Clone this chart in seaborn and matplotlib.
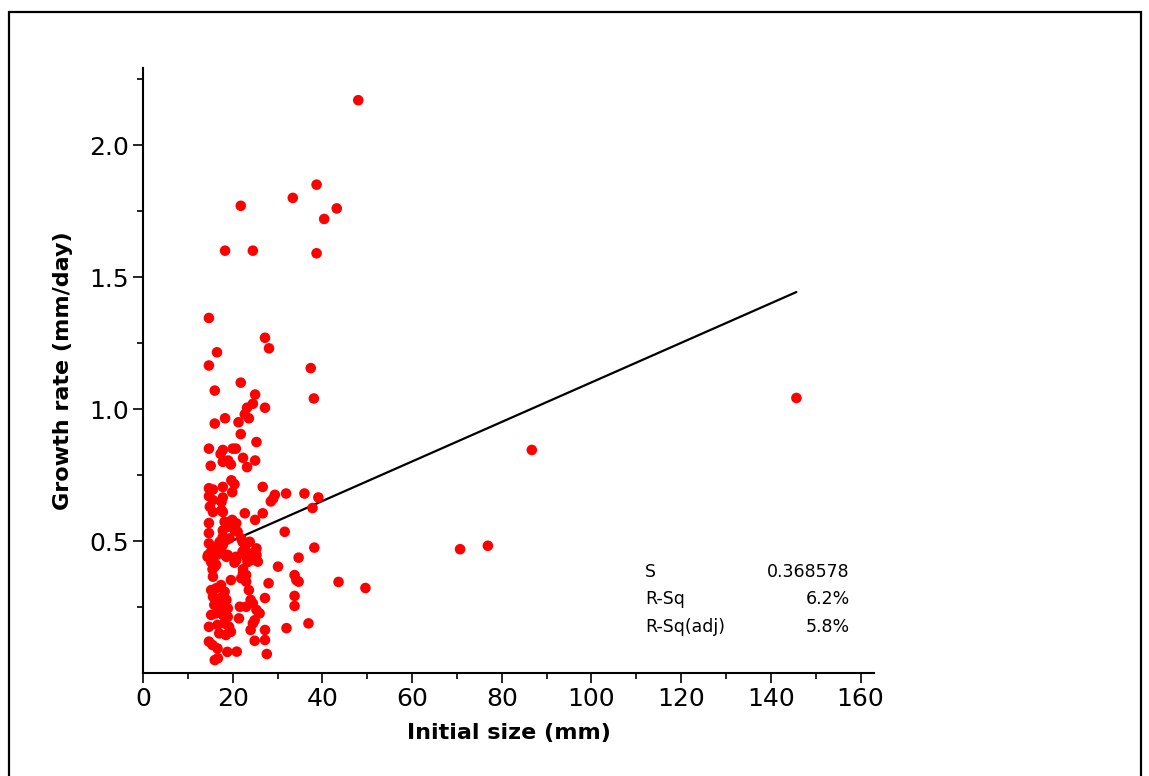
import numpy as np
import pandas as pd
import matplotlib
matplotlib.use("Agg")
import matplotlib.pyplot as plt
from matplotlib.ticker import FixedLocator, MultipleLocator
from matplotlib.patches import Rectangle
import seaborn as sns

# ---- data ----
initial_size = [
    48.0, 38.7, 33.4, 21.8, 43.2, 40.4, 18.3, 24.5, 38.7,
    14.7, 27.2, 28.1, 16.5, 14.7, 37.4, 21.8, 16.0, 25.0, 38.1, 24.5, 23.2, 27.2,
    22.7, 23.6, 18.3, 21.3, 16.0, 21.8, 25.3, 14.7, 17.8, 20.0, 20.7, 17.3, 22.3,
    25.0, 19.0, 17.8, 19.6, 15.1, 23.2,
    19.7, 20.4, 14.7, 15.6, 17.8, 19.9, 26.7, 29.4, 29.0, 28.5, 31.9, 36.0, 39.1,
    37.8, 14.7, 15.6, 17.8, 17.5, 14.9, 15.6, 17.5, 17.8, 22.7, 26.7, 25.0, 14.7,
    18.2, 19.9, 20.8, 19.0, 20.4, 21.1, 14.7, 31.6, 17.8, 17.1, 18.6, 19.3, 21.9,
    23.8, 14.7, 15.6, 22.7, 25.3, 38.2, 17.5, 16.4, 14.5, 15.3, 25.3, 18.6, 23.0,
    24.2, 20.8, 25.6, 34.7, 30.1, 16.0, 22.3,
    17.8, 16.7, 17.8, 22.2, 15.2, 17.8, 18.9, 20.7, 22.2, 24.4, 14.4,
    15.2, 16.3, 23.3,
    20.4, 15.5, 19.6, 22.3, 23.0, 21.9, 23.0, 23.6, 28.0, 33.8, 34.2, 34.7, 43.6,
    49.6, 33.8, 33.8, 27.2, 24.0, 24.5, 21.6, 23.0, 25.3, 26.0, 21.4, 24.9, 24.5,
    24.0, 27.2, 32.0, 36.9, 24.9, 27.2, 27.6, 20.9, 18.8, 16.0, 16.7,
    15.6, 15.2, 16.3, 17.4, 18.2, 15.6, 17.1, 18.6, 15.9, 17.4, 18.9, 15.2, 16.3,
    17.8, 18.9, 14.7, 16.6, 18.1, 19.2, 17.0, 18.5, 19.6, 14.7, 15.5, 16.6,
    145.7, 86.7, 76.9, 70.7,
]
growth_rate = [
    2.17, 1.85, 1.80, 1.77, 1.76, 1.72, 1.60, 1.60, 1.59,
    1.345, 1.27, 1.23, 1.215, 1.165, 1.155, 1.10, 1.07, 1.055, 1.04, 1.02, 1.005, 1.005,
    0.98, 0.965, 0.965, 0.95, 0.945, 0.905, 0.875, 0.85, 0.845, 0.85, 0.85, 0.83, 0.815,
    0.805, 0.805, 0.80, 0.79, 0.785, 0.78,
    0.73, 0.715, 0.70, 0.695, 0.705, 0.685, 0.705, 0.675, 0.66, 0.65, 0.68, 0.68, 0.665,
    0.625, 0.67, 0.655, 0.665, 0.648, 0.63, 0.61, 0.617, 0.61, 0.605, 0.605, 0.58, 0.568,
    0.573, 0.58, 0.567, 0.554, 0.542, 0.535, 0.53, 0.535, 0.516, 0.497, 0.504, 0.51, 0.51,
    0.497, 0.491, 0.478, 0.472, 0.472, 0.475, 0.459, 0.447, 0.447, 0.428, 0.447, 0.44, 0.44,
    0.428, 0.428, 0.422, 0.437, 0.403, 0.403, 0.393,
    0.54, 0.479, 0.485, 0.497, 0.46, 0.453, 0.447, 0.44, 0.46, 0.453, 0.44,
    0.42, 0.41, 0.42,
    0.418, 0.393, 0.352, 0.378, 0.371, 0.359, 0.346, 0.314, 0.34, 0.371, 0.352, 0.346, 0.345,
    0.322, 0.292, 0.254, 0.284, 0.277, 0.264, 0.251, 0.251, 0.239, 0.226, 0.207, 0.20, 0.188,
    0.163, 0.163, 0.17, 0.188, 0.122, 0.125, 0.072, 0.081, 0.08, 0.049, 0.056,
    0.365, 0.314, 0.321, 0.333, 0.308, 0.289, 0.283, 0.277, 0.258, 0.251, 0.245, 0.22, 0.226,
    0.22, 0.213, 0.175, 0.182, 0.188, 0.175, 0.15, 0.144, 0.156, 0.119, 0.106, 0.093,
    1.042, 0.845, 0.482, 0.469,
]

# fitted regression line
fit_intercept = 0.352
fit_slope = 0.00749

stat_names = ["S", "R-Sq", "R-Sq(adj)"]
stat_values = ["0.368578", "6.2%", "5.8%"]

x_major_ticks = [0, 20, 40, 60, 80, 100, 120, 140, 160]
y_major_ticks = [0.5, 1.0, 1.5, 2.0]
y_tick_labels = ["0.5", "1.0", "1.5", "2.0"]

df = pd.DataFrame({"size": initial_size, "rate": growth_rate})
xs = np.array([min(initial_size), max(initial_size)])
line_df = pd.DataFrame({"size": xs, "rate": fit_intercept + fit_slope * xs})

# ---- figure ----
sns.set_style("white")
plt.rcParams["font.family"] = ["DejaVu Sans"]
plt.rcParams["text.color"] = "black"
plt.rcParams["axes.labelcolor"] = "black"

W, H = 1149, 776
fig = plt.figure(figsize=(W / 100, H / 100), dpi=100)
ax = fig.add_axes([143 / W, 1 - 673 / H, 731 / W, 605 / H])

sns.lineplot(data=line_df, x="size", y="rate", ax=ax, color="black", lw=1.6, zorder=2)
sns.scatterplot(data=df, x="size", y="rate", ax=ax, color="#ff0000", s=58,
                edgecolor="none", linewidth=0, zorder=3)

ax.set_xlim(0, 163)
ax.set_ylim(0, 2.292)

ax.xaxis.set_major_locator(FixedLocator(x_major_ticks))
ax.xaxis.set_minor_locator(MultipleLocator(10))
ax.yaxis.set_major_locator(FixedLocator(y_major_ticks))
ax.set_yticklabels(y_tick_labels)
ax.yaxis.set_minor_locator(FixedLocator([0.25, 0.75, 1.25, 1.75, 2.25]))

for s in ["top", "right"]:
    ax.spines[s].set_visible(False)
for s in ["left", "bottom"]:
    ax.spines[s].set_linewidth(1.5)
    ax.spines[s].set_color("black")

ax.tick_params(which="major", direction="out", length=7, width=1.2, labelsize=18,
               colors="black", pad=3)
ax.tick_params(which="minor", direction="out", length=4, width=1.2, colors="black")
ax.tick_params(axis="both", which="both", bottom=True, left=True)

ax.set_xlabel("Initial size (mm)", fontsize=16, fontweight="bold", labelpad=9,
              color="black")
ax.set_ylabel("Growth rate (mm/day)", fontsize=16, fontweight="bold", labelpad=12,
              color="black")

ys = [(673 - 572) / 605, (673 - 599) / 605, (673 - 627) / 605]
for name, val, yy in zip(stat_names, stat_values, ys):
    ax.text((645 - 143) / 731, yy, name, transform=ax.transAxes, fontsize=12.5,
            ha="left", va="center", color="black")
    ax.text((850 - 143) / 731, yy, val, transform=ax.transAxes, fontsize=12.5,
            ha="right", va="center", color="black")

# outer frame
fig.patches.append(Rectangle((9 / W, -0.05), (1141 - 9) / W, 1.05 - 12 / H,
                             transform=fig.transFigure, fill=False,
                             edgecolor="black", linewidth=1.6))

fig.savefig("out.png", dpi=100, facecolor="white")
